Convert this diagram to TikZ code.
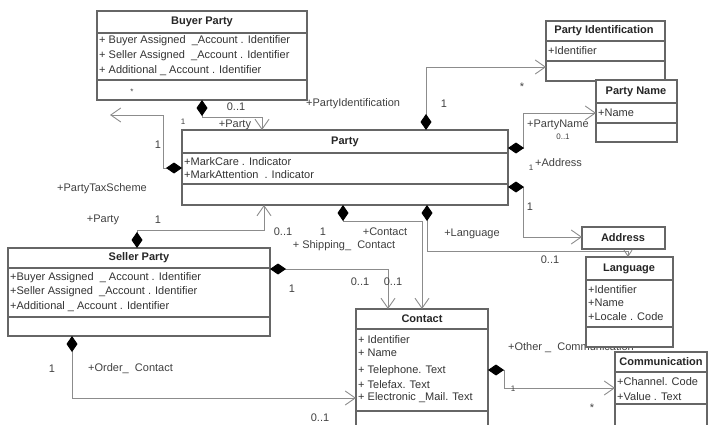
\documentclass[tikz,border=0pt]{standalone}
\usepackage{fontspec}
\setmainfont{Liberation Sans}
\usetikzlibrary{arrows.meta,calc}
\begin{document}
\begin{tikzpicture}[x=1pt,y=-1pt,
  font=\fontsize{11}{12}\selectfont,
  cls/.style={draw=black!60, line width=1.3pt, fill=white, anchor=north west, inner sep=0pt, outer sep=0pt},
  sep/.style={draw=black!60, line width=1.1pt},
  title/.style={font=\fontsize{11}{12}\selectfont\bfseries, text=black!85, inner sep=0pt},
  attr/.style={anchor=west, text=black!80, inner sep=0pt},
  lbl/.style={text=black!75, inner sep=0pt},
  small/.style={lbl, font=\fontsize{8}{9}\selectfont},
  assoc/.style={draw=black!45, line width=0.9pt,
    {Diamond[length=16pt,width=11pt,color=black]}-{Straight Barb[length=10pt,width=14pt]}},
]
\useasboundingbox (0,0) rectangle (709,425);
\clip (0,0) rectangle (709,425);

% ---------- classes ----------
\node[cls, minimum width=210pt, minimum height=89pt] (buyer) at (97,11) {};
\draw[sep] ($(buyer.north west)+(0,22)$) -- ($(buyer.north east)+(0,22)$);
\draw[sep] ($(buyer.north west)+(0,69)$) -- ($(buyer.north east)+(0,69)$);
\node[title] (buyer-t) at (202,22) {Buyer Party};
\node[attr] (buyer-a1) at (99,41) {+ Buyer Assigned\ \ \_Account . Identifier};
\node[attr] (buyer-a2) at (99,56) {+ Seller Assigned\ \ \_Account . Identifier};
\node[attr] (buyer-a3) at (99,71) {+ Additional \_ Account . Identifier};
\node[small] (buyer-op) at (132,92) {*};

\node[cls, minimum width=119pt, minimum height=60pt] (pid) at (546,21) {};
\draw[sep] ($(pid.north west)+(0,20)$) -- ($(pid.north east)+(0,20)$);
\draw[sep] ($(pid.north west)+(0,40)$) -- ($(pid.north east)+(0,40)$);
\node[title] (pid-t) at (604,31) {Party Identification};
\node[attr] (pid-a1) at (548,51) {+Identifier};

\node[cls, minimum width=81pt, minimum height=62pt] (pname) at (596,80) {};
\draw[sep] ($(pname.north west)+(0,23)$) -- ($(pname.north east)+(0,23)$);
\draw[sep] ($(pname.north west)+(0,43)$) -- ($(pname.north east)+(0,43)$);
\node[title] (pname-t) at (636,92) {Party Name};
\node[attr] (pname-a1) at (598,113) {+Name};

\node[cls, minimum width=326pt, minimum height=75pt] (party) at (182,130) {};
\draw[sep] ($(party.north west)+(0,23)$) -- ($(party.north east)+(0,23)$);
\draw[sep] ($(party.north west)+(0,54)$) -- ($(party.north east)+(0,54)$);
\node[title] (party-t) at (345,142) {Party};
\node[attr] (party-a1) at (184,162) {+MarkCare . Indicator};
\node[attr] (party-a2) at (184,175) {+MarkAttention\ \ . Indicator};

\node[cls, minimum width=83pt, minimum height=22pt] (address) at (582,227) {};
\node[title] (address-t) at (623,238) {Address};

\node[lbl, anchor=west] (l-othercomm) at (508,348) {+Other \_\ \ Communication};

\node[cls, minimum width=87pt, minimum height=90pt] (lang) at (586,257) {};
\draw[sep] ($(lang.north west)+(0,23)$) -- ($(lang.north east)+(0,23)$);
\draw[sep] ($(lang.north west)+(0,70)$) -- ($(lang.north east)+(0,70)$);
\node[title] (lang-t) at (629,269) {Language};
\node[attr] (lang-a1) at (588,290) {+Identifier};
\node[attr] (lang-a2) at (588,303) {+Name};
\node[attr] (lang-a3) at (588,317) {+Locale . Code};

\node[cls, minimum width=262pt, minimum height=88pt] (seller) at (8,248) {};
\draw[sep] ($(seller.north west)+(0,20)$) -- ($(seller.north east)+(0,20)$);
\draw[sep] ($(seller.north west)+(0,69)$) -- ($(seller.north east)+(0,69)$);
\node[title] (seller-t) at (139,258) {Seller Party};
\node[attr] (seller-a1) at (10,278) {+Buyer Assigned\ \ \_ Account . Identifier};
\node[attr] (seller-a2) at (10,292) {+Seller Assigned\ \ \_Account . Identifier};
\node[attr] (seller-a3) at (10,307) {+Additional \_ Account . Identifier};

\node[cls, minimum width=132pt, minimum height=130pt] (contact) at (356,309) {};
\draw[sep] ($(contact.north west)+(0,20)$) -- ($(contact.north east)+(0,20)$);
\draw[sep] ($(contact.north west)+(0,102)$) -- ($(contact.north east)+(0,102)$);
\node[title] (contact-t) at (422,319) {Contact};
\node[attr] (contact-a1) at (358,340) {+ Identifier};
\node[attr] (contact-a2) at (358,353) {+ Name};
\node[attr] (contact-a3) at (358,371) {+ Telephone. Text};
\node[attr] (contact-a4) at (358,385) {+ Telefax. Text};
\node[attr] (contact-a5) at (358,398) {+ Electronic \_Mail. Text};

\node[cls, minimum width=92pt, minimum height=90pt] (comm) at (615,352) {};
\draw[sep] ($(comm.north west)+(0,20)$) -- ($(comm.north east)+(0,20)$);
\draw[sep] ($(comm.north west)+(0,52)$) -- ($(comm.north east)+(0,52)$);
\node[title] (comm-t) at (661,362) {Communication};
\node[attr] (comm-a1) at (617,382) {+Channel. Code};
\node[attr] (comm-a2) at (617,397) {+Value . Text};

% ---------- associations ----------
\coordinate (taxscheme) at (110,115);

% Party -> Party Identification
\draw[assoc] (party.north -| 426,0) -- (426,67) -- (pid.west |- 0,67);
% Buyer Party -> Party
\draw[assoc] (buyer.south -| 202,0) -- (202,117) -- (262,117) -- (party.north -| 262,0);
% Party -> Party Tax Scheme
\draw[assoc] (party.west |- 0,168) -- (163,168) -- (163,115) -- (taxscheme);
% Party -> Party Name
\draw[assoc] (party.east |- 0,148) -- (523,148) -- (523,113) -- (pname.west |- 0,113);
% Party -> Address
\draw[assoc] (party.east |- 0,187) -- (523,187) -- (523,237) -- (address.west |- 0,237);
% Party -> Language
\draw[draw=black!45, line width=0.9pt,
  {Diamond[length=16pt,width=11pt,color=black]}-{Straight Barb[length=6pt,width=8pt]}]
  (party.south -| 427,0) -- (427,251) -- (628,251) -- (lang.north -| 628,0);
% Party -> Contact
\draw[assoc] (party.south -| 343,0) -- (343,221) -- (422,221) -- (contact.north -| 422,0);
% Seller Party -> Contact (shipping)
\draw[assoc] (seller.east |- 0,269) -- (388,269) -- (contact.north -| 388,0);
% Seller Party -> Party
\draw[assoc] (seller.north -| 137,0) -- (137,230) -- (264,230) -- (party.south -| 264,0);
% Seller Party -> Contact (order)
\draw[assoc] (seller.south -| 72,0) -- (72,398) -- (contact.west |- 0,398);
% Contact -> Communication
\draw[assoc] (contact.east |- 0,370) -- (504,370) -- (504,388) -- (comm.west |- 0,388);

% ---------- role names and multiplicities ----------
\node[lbl, anchor=west] (l-pidrole) at (306,104) {+PartyIdentification};
\node[lbl] (l-pid1) at (444,104) {1};
\node[lbl] (l-pidm) at (522,87) {*};
\node[lbl] (l-bp01) at (236,107) {0..1};
\node[lbl] (l-bprole) at (235,125) {+Party};
\node[small] (l-bp1) at (183,122) {1};
\node[lbl] (l-tax1) at (158,145) {1};
\node[lbl] (l-taxrole) at (102,189) {+PartyTaxScheme};
\node[lbl, anchor=west] (l-pnrole) at (527,125) {+PartyName};
\node[small] (l-pn01) at (563,137) {0..1};
\node[lbl, anchor=west] (l-addrrole) at (535,163) {+Address};
\node[small] (l-addr1a) at (531,168) {1};
\node[lbl] (l-addr1) at (530,207) {1};
\node[lbl] (l-langrole) at (472,234) {+Language};
\node[lbl] (l-lang01) at (550,260) {0..1};
\node[lbl] (l-sp01) at (283,232) {0..1};
\node[lbl] (l-c1) at (323,232) {1};
\node[lbl] (l-crole) at (385,232) {+Contact};
\node[lbl] (l-shiprole) at (344,246) {+ Shipping\_\ \ Contact};
\node[lbl] (l-sprole) at (103,220) {+Party};
\node[lbl] (l-sp1) at (158,220) {1};
\node[lbl] (l-ship1) at (292,289) {1};
\node[lbl] (l-ship01) at (360,282) {0..1};
\node[lbl] (l-c01) at (393,282) {0..1};
\node[lbl] (l-ord1) at (52,369) {1};
\node[lbl, anchor=west] (l-ordrole) at (88,369) {+Order\_\ \ Contact};
\node[lbl] (l-ord01) at (320,418) {0..1};
\node[small] (l-comm1) at (513,389) {1};
\node[lbl] (l-commm) at (592,408) {*};
\end{tikzpicture}
\end{document}
